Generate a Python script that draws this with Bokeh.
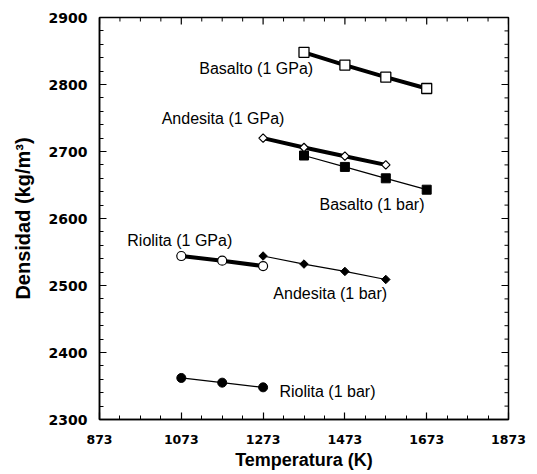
import math
from bokeh.plotting import figure
from bokeh.models import FixedTicker, Label, Range1d
from bokeh.embed import file_html
from bokeh.resources import INLINE

# ---- data ----
temp_riolita = [1073, 1173, 1273]
temp_andesita = [1273, 1373, 1473, 1573]
temp_basalto = [1373, 1473, 1573, 1673]

riolita_1gpa = [2544, 2537, 2529]
riolita_1bar = [2362, 2355, 2348]
andesita_1gpa = [2720, 2706, 2693, 2680]
andesita_1bar = [2544, 2532, 2521, 2509]
basalto_1gpa = [2848, 2829, 2811, 2794]
basalto_1bar = [2694, 2677, 2660, 2643]

x_ticks = [873, 1073, 1273, 1473, 1673, 1873]
y_ticks = [2300, 2400, 2500, 2600, 2700, 2800, 2900]
x_minor = list(range(873, 1874, 50))
y_minor = list(range(2300, 2901, 20))

label_texts = ["Basalto (1 GPa)", "Andesita (1 GPa)", "Basalto (1 bar)",
               "Riolita (1 GPa)", "Andesita (1 bar)", "Riolita (1 bar)"]
label_x = [1117, 1025, 1411, 941, 1298, 1313]
label_y = [2824, 2749, 2621, 2567, 2488, 2342]

FONT = "Liberation Sans"
TICK_FONT = "DejaVu Sans"

p = figure(width=537, height=474, output_backend="svg", toolbar_location=None,
           x_range=Range1d(x_ticks[0], x_ticks[-1]),
           y_range=Range1d(y_ticks[0], y_ticks[-1]),
           min_border_left=99, min_border_right=29, min_border_top=17,
           min_border_bottom=55)
p.background_fill_color = "white"
p.border_fill_color = "white"
p.outline_line_color = "black"
p.outline_line_width = 1.5
p.xgrid.visible = False
p.ygrid.visible = False

def style_axis(ax, ticks, minor):
    ax.ticker = FixedTicker(ticks=ticks, minor_ticks=minor)
    ax.axis_line_color = "black"
    ax.axis_line_width = 1.5
    ax.major_tick_in = 7
    ax.major_tick_out = 0
    ax.minor_tick_in = 4
    ax.minor_tick_out = 0
    ax.major_tick_line_color = "black"
    ax.minor_tick_line_color = "black"
    ax.major_tick_line_width = 1.2
    ax.minor_tick_line_width = 1
    ax.major_label_text_font = TICK_FONT
    ax.major_label_text_font_style = "bold"
    ax.major_label_text_color = "black"
    ax.axis_label_text_font = FONT
    ax.axis_label_text_font_style = "bold"
    ax.axis_label_text_color = "black"

style_axis(p.xaxis[0], x_ticks, x_minor)
style_axis(p.yaxis[0], y_ticks, y_minor)
p.xaxis[0].major_label_text_font_size = "12.5px"
p.xaxis[0].axis_label = "Temperatura (K)"
p.xaxis[0].axis_label_text_font_size = "18px"
p.xaxis[0].major_label_standoff = 15
p.xaxis[0].axis_label_standoff = 3
p.yaxis[0].major_label_text_font_size = "14px"
p.yaxis[0].axis_label = "Densidad (kg/m³)"
p.yaxis[0].axis_label_text_font_size = "20px"
p.yaxis[0].major_label_standoff = 12
p.yaxis[0].axis_label_standoff = 12

# mirrored inward ticks on the top and right edges
x_minor_only = [v for v in x_minor if v not in x_ticks]
y_minor_only = [v for v in y_minor if v not in y_ticks]
p.ray(x=x_ticks, y=[y_ticks[-1]] * len(x_ticks), length=7, length_units="screen",
      angle=-math.pi / 2, line_color="black", line_width=1.2)
p.ray(x=x_minor_only, y=[y_ticks[-1]] * len(x_minor_only), length=4,
      length_units="screen", angle=-math.pi / 2, line_color="black", line_width=1)
p.ray(x=[x_ticks[-1]] * len(y_ticks), y=y_ticks, length=7, length_units="screen",
      angle=math.pi, line_color="black", line_width=1.2)
p.ray(x=[x_ticks[-1]] * len(y_minor_only), y=y_minor_only, length=4,
      length_units="screen", angle=math.pi, line_color="black", line_width=1)

# ---- series ----
# Basalto 1 GPa: open squares, thick
p.line(temp_basalto, basalto_1gpa, line_color="black", line_width=4)
p.scatter(temp_basalto, basalto_1gpa, marker="square", size=10,
          fill_color="white", line_color="black", line_width=1.3)
# Basalto 1 bar: filled squares, thin
p.line(temp_basalto, basalto_1bar, line_color="black", line_width=1.2)
p.scatter(temp_basalto, basalto_1bar, marker="square", size=9,
          fill_color="black", line_color="black")
# Andesita 1 GPa: open diamonds, thick
p.line(temp_andesita, andesita_1gpa, line_color="black", line_width=4)
p.scatter(temp_andesita, andesita_1gpa, marker="square", size=6, angle=math.pi / 4,
          fill_color="white", line_color="black", line_width=1.2)
# Andesita 1 bar: filled diamonds, thin
p.line(temp_andesita, andesita_1bar, line_color="black", line_width=1.2)
p.scatter(temp_andesita, andesita_1bar, marker="square", size=6, angle=math.pi / 4,
          fill_color="black", line_color="black")
# Riolita 1 GPa: open circles, thick
p.line(temp_riolita, riolita_1gpa, line_color="black", line_width=4)
p.scatter(temp_riolita, riolita_1gpa, marker="circle", size=9,
          fill_color="white", line_color="black", line_width=1.2)
# Riolita 1 bar: filled circles, thin
p.line(temp_riolita, riolita_1bar, line_color="black", line_width=1.2)
p.scatter(temp_riolita, riolita_1bar, marker="circle", size=9,
          fill_color="black", line_color="black")

for t, lx, ly in zip(label_texts, label_x, label_y):
    p.add_layout(Label(x=lx, y=ly, text=t, text_font=FONT, text_font_size="16px",
                       text_color="black", text_align="left",
                       text_baseline="middle"))

open("out.html", "w").write(file_html(p, INLINE))
